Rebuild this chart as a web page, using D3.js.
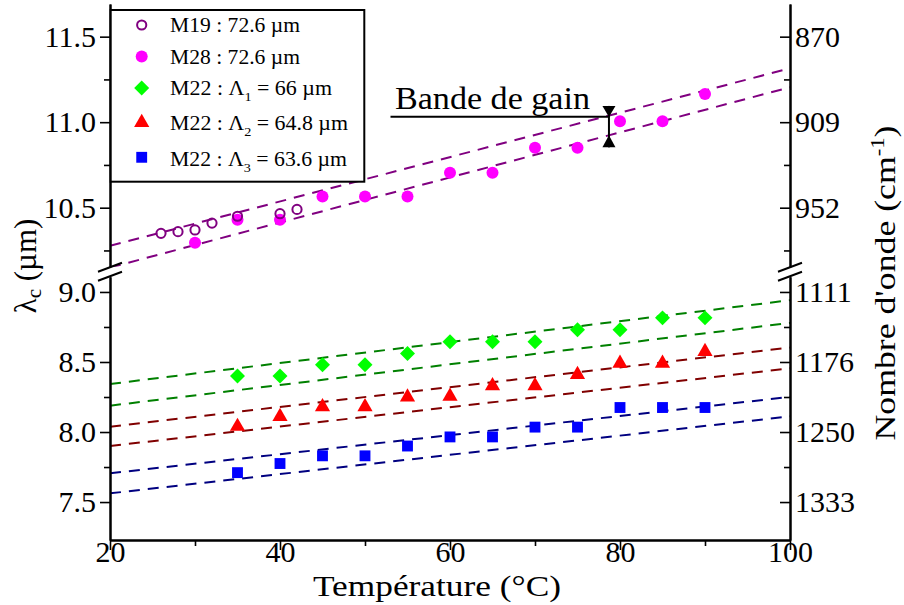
<!DOCTYPE html>
<html><head><meta charset="utf-8">
<script src="https://cdn.jsdelivr.net/npm/d3@7"></script>
<style>
body{margin:0;background:#fff}
svg{display:block}
text{fill:#000;font-family:'Liberation Serif','DejaVu Serif',serif}
</style>
</head><body>
<svg id="chart" width="904" height="605"></svg>
<script>
// ---------------- data ----------------
const tempM19 = [26, 28, 30, 32, 35, 40, 42];
const lambdaM19 = [10.35, 10.36, 10.37, 10.41, 10.45, 10.465, 10.49];

const tempM28 = [30, 35, 40, 45, 50, 55, 60, 65, 70, 75, 80, 85, 90];
const lambdaM28 = [10.295, 10.43, 10.43, 10.565, 10.565, 10.565, 10.705, 10.705, 10.85, 10.85, 11.005, 11.005, 11.165];

const tempM22 = [35, 40, 45, 50, 55, 60, 65, 70, 75, 80, 85, 90];
const lambdaL1 = [8.40, 8.40, 8.48, 8.48, 8.56, 8.645, 8.645, 8.645, 8.73, 8.73, 8.815, 8.815];
const lambdaL2 = [8.04, 8.11, 8.18, 8.18, 8.25, 8.255, 8.33, 8.33, 8.41, 8.49, 8.49, 8.575];
const lambdaL3 = [7.71, 7.775, 7.83, 7.83, 7.90, 7.965, 7.965, 8.035, 8.035, 8.175, 8.175, 8.175];

// fitted dashed lines (values at T = 20 and T = 100)
const fitTemps = [20, 100];
const fitPurpleUp = [10.277, 11.315];
const fitPurpleLow = [10.150, 11.204];
const fitGreenUp = [8.343, 8.941];
const fitGreenLow = [8.188, 8.779];
const fitRedUp = [8.038, 8.603];
const fitRedLow = [7.900, 8.455];
const fitBlueUp = [7.705, 8.251];
const fitBlueLow = [7.562, 8.112];

// gain band annotation
const gainTemp = 78.7;
const gainLambdaTop = 11.095;
const gainLambdaBottom = 10.853;
const gainLineLambda = 11.032;
const gainLineStartTemp = 53.0;
const gainLabel = "Bande de gain";

// axes
const xMajorTicks = [20, 40, 60, 80, 100];
const xMinorTicks = [30, 50, 70, 90];
const yUpperMajor = [10.5, 11.0, 11.5];
const yUpperMinor = [10.25, 10.75, 11.25];
const yLowerMajor = [7.5, 8.0, 8.5, 9.0];
const yLowerMinor = [7.75, 8.25, 8.75];
const rightLabelsUpper = ["952", "909", "870"];
const rightLabelsLower = ["1333", "1250", "1176", "1111"];

// ---------------- layout ----------------
const svg = d3.select("#chart");
const plotLeft = 110, plotRight = 790, plotTop = 4, plotBottom = 540;
const breakTop = 266.7, breakBottom = 276.7;

const x = d3.scaleLinear().domain([20, 100]).range([plotLeft, plotRight]);
const yUp = d3.scaleLinear().domain([10.155, 11.691]).range([breakTop, plotTop]);
const yLow = d3.scaleLinear().domain([7.229, 9.109]).range([plotBottom, breakBottom]);

const defs = svg.append("defs");
defs.append("clipPath").attr("id", "clipUp").append("rect")
  .attr("x", plotLeft).attr("y", plotTop).attr("width", plotRight - plotLeft).attr("height", breakTop - plotTop);
defs.append("clipPath").attr("id", "clipLow").append("rect")
  .attr("x", plotLeft).attr("y", breakBottom).attr("width", plotRight - plotLeft).attr("height", plotBottom - breakBottom);

// ---------------- dashed fit lines ----------------
function fitLine(vals, yScale, color, clip) {
  const pts = fitTemps.map((t, i) => [t, vals[i]]);
  svg.append("path")
    .attr("clip-path", `url(#${clip})`)
    .attr("d", d3.line().x(d => x(d[0])).y(d => yScale(d[1]))(pts))
    .attr("fill", "none").attr("stroke", color).attr("stroke-width", 2)
    .attr("stroke-dasharray", "11,8");
}
fitLine(fitPurpleUp, yUp, "#800080", "clipUp");
fitLine(fitPurpleLow, yUp, "#800080", "clipUp");
fitLine(fitGreenUp, yLow, "#008000", "clipLow");
fitLine(fitGreenLow, yLow, "#008000", "clipLow");
fitLine(fitRedUp, yLow, "#800000", "clipLow");
fitLine(fitRedLow, yLow, "#800000", "clipLow");
fitLine(fitBlueUp, yLow, "#000080", "clipLow");
fitLine(fitBlueLow, yLow, "#000080", "clipLow");

// ---------------- markers ----------------
const symFilledCircle = d3.symbol(d3.symbolCircle, Math.PI * 36)();
const symOpenCircle = d3.symbol(d3.symbolCircle, Math.PI * 4.6 * 4.6)();
const symDiamond = d3.symbol(d3.symbolSquare, 112)();
const symTriangle = d3.symbol(d3.symbolTriangle, 100)();
const symSquare = d3.symbol(d3.symbolSquare, 118)();

function markers(temps, vals, yScale, path, fill, stroke, rotate) {
  svg.append("g").selectAll("path").data(temps.map((t, i) => [t, vals[i]])).join("path")
    .attr("d", path)
    .attr("transform", d => `translate(${x(d[0])},${yScale(d[1])})` + (rotate ? " rotate(45)" : ""))
    .attr("fill", fill).attr("stroke", stroke).attr("stroke-width", stroke === "none" ? 0 : 2);
}
markers(tempM28, lambdaM28, yUp, symFilledCircle, "#ff00ff", "none");
markers(tempM19, lambdaM19, yUp, symOpenCircle, "none", "#800080");
markers(tempM22, lambdaL1, yLow, symDiamond, "#00ff00", "none", true);
markers(tempM22, lambdaL2, yLow, symTriangle, "#ff0000", "none");
markers(tempM22, lambdaL3, yLow, symSquare, "#0000ff", "none");

// ---------------- gain band annotation ----------------
const gx = x(gainTemp), gTop = yUp(gainLambdaTop), gBot = yUp(gainLambdaBottom), gLine = yUp(gainLineLambda);
svg.append("line").attr("x1", x(gainLineStartTemp)).attr("x2", gx).attr("y1", gLine).attr("y2", gLine)
  .attr("stroke", "#000").attr("stroke-width", 2);
svg.append("line").attr("x1", gx).attr("x2", gx).attr("y1", gTop).attr("y2", gBot)
  .attr("stroke", "#000").attr("stroke-width", 2);
svg.append("path").attr("d", `M${gx - 6.5},${gTop}L${gx + 6.5},${gTop}L${gx},${gTop + 11}Z`).attr("fill", "#000");
svg.append("path").attr("d", `M${gx - 6.5},${gBot}L${gx + 6.5},${gBot}L${gx},${gBot - 12}Z`).attr("fill", "#000");
svg.append("text").attr("x", 395).attr("y", gLine - 7.5).attr("font-size", 31)
  .attr("textLength", 195).attr("lengthAdjust", "spacingAndGlyphs").text(gainLabel);

// ---------------- axes ----------------
function styleAxis(g, fs) {
  g.attr("font-family", null).attr("font-size", fs);
  g.select(".domain").attr("stroke-width", 2);
  g.selectAll(".tick line").attr("stroke-width", 1.6);
}
const fmt = d3.format(".1f");
const TF = 30;
let g;
g = svg.append("g").attr("transform", `translate(${plotLeft},0)`)
  .call(d3.axisLeft(yUp).tickValues(yUpperMajor).tickSize(10).tickSizeOuter(0).tickPadding(4).tickFormat(fmt));
styleAxis(g, TF);
g = svg.append("g").attr("transform", `translate(${plotLeft},0)`)
  .call(d3.axisLeft(yUp).tickValues(yUpperMinor).tickSize(6).tickSizeOuter(0).tickFormat(""));
styleAxis(g, TF);
g = svg.append("g").attr("transform", `translate(${plotLeft},0)`)
  .call(d3.axisLeft(yLow).tickValues(yLowerMajor).tickSize(10).tickSizeOuter(0).tickPadding(4).tickFormat(fmt));
styleAxis(g, TF);
g = svg.append("g").attr("transform", `translate(${plotLeft},0)`)
  .call(d3.axisLeft(yLow).tickValues(yLowerMinor).tickSize(6).tickSizeOuter(0).tickFormat(""));
styleAxis(g, TF);
g = svg.append("g").attr("transform", `translate(${plotRight},0)`)
  .call(d3.axisRight(yUp).tickValues(yUpperMajor).tickSizeInner(-10).tickSizeOuter(0).tickPadding(5)
    .tickFormat((d, i) => rightLabelsUpper[i]));
styleAxis(g, TF);
g = svg.append("g").attr("transform", `translate(${plotRight},0)`)
  .call(d3.axisRight(yUp).tickValues(yUpperMinor).tickSizeInner(-6).tickSizeOuter(0).tickFormat(""));
styleAxis(g, TF);
g = svg.append("g").attr("transform", `translate(${plotRight},0)`)
  .call(d3.axisRight(yLow).tickValues(yLowerMajor).tickSizeInner(-10).tickSizeOuter(0).tickPadding(5)
    .tickFormat((d, i) => rightLabelsLower[i]));
styleAxis(g, TF);
g = svg.append("g").attr("transform", `translate(${plotRight},0)`)
  .call(d3.axisRight(yLow).tickValues(yLowerMinor).tickSizeInner(-6).tickSizeOuter(0).tickFormat(""));
styleAxis(g, TF);
g = svg.append("g").attr("transform", `translate(0,${plotBottom})`)
  .call(d3.axisBottom(x).tickValues(xMajorTicks).tickSize(10).tickSizeOuter(0).tickFormat(d3.format("d")));
styleAxis(g, TF);
g.selectAll(".tick text").attr("y", 22).attr("dy", null);
g = svg.append("g").attr("transform", `translate(0,${plotBottom})`)
  .call(d3.axisBottom(x).tickValues(xMinorTicks).tickSize(6).tickSizeOuter(0).tickFormat(""));
styleAxis(g, TF);

// axis break marks
[plotLeft, plotRight].forEach(ax => {
  const ymid = (breakTop + breakBottom) / 2;
  [-4.5, 4.5].forEach(off => {
    svg.append("line")
      .attr("x1", ax - 12).attr("y1", ymid + off + 4.5)
      .attr("x2", ax + 12).attr("y2", ymid + off - 4.5)
      .attr("stroke", "#000").attr("stroke-width", 2);
  });
});

// ---------------- axis titles ----------------
svg.append("text").attr("x", 313).attr("y", 596).attr("font-size", 29)
  .attr("textLength", 248).attr("lengthAdjust", "spacingAndGlyphs").text("Température (°C)");

const lt = svg.append("text").attr("transform", "translate(36,266) rotate(-90)")
  .attr("text-anchor", "middle").attr("font-size", 31);
lt.append("tspan").text("λ");
lt.append("tspan").attr("font-size", 21).attr("dy", 5).text("c");
lt.append("tspan").attr("dy", -5).text(" (µm)");

const rt = svg.append("text").attr("transform", "translate(895,283) rotate(-90)")
  .attr("text-anchor", "middle").attr("font-size", 30)
  .attr("textLength", 315).attr("lengthAdjust", "spacingAndGlyphs");
rt.append("tspan").text("Nombre d'onde (cm");
rt.append("tspan").attr("font-size", 19).attr("dy", -11).text("-1");
rt.append("tspan").attr("dy", 11).text(")");

// ---------------- legend ----------------
const leg = svg.append("g");
leg.append("rect").attr("x", 110.7).attr("y", 10).attr("width", 253.6).attr("height", 171.7)
  .attr("fill", "#fff").attr("stroke", "#000").attr("stroke-width", 2);
const legendItems = [
  {path: symOpenCircle, fill: "none", stroke: "#800080", rot: false, cy: 25, base: 32.3, w: 130,
   parts: [["M19 : 72.6 µm"]]},
  {path: symFilledCircle, fill: "#ff00ff", stroke: "none", rot: false, cy: 56.5, base: 64, w: 130,
   parts: [["M28 : 72.6 µm"]]},
  {path: symDiamond, fill: "#00ff00", stroke: "none", rot: true, cy: 88, base: 95, w: 162,
   parts: [["M22 : Λ"], ["1", "sub"], [" = 66 µm"]]},
  {path: symTriangle, fill: "#ff0000", stroke: "none", rot: false, cy: 122.5, base: 130, w: 178,
   parts: [["M22 : Λ"], ["2", "sub"], [" = 64.8 µm"]]},
  {path: symSquare, fill: "#0000ff", stroke: "none", rot: false, cy: 157.3, base: 165.7, w: 177,
   parts: [["M22 : Λ"], ["3", "sub"], [" = 63.6 µm"]]}
];
legendItems.forEach(it => {
  leg.append("path").attr("d", it.path)
    .attr("transform", `translate(141.7,${it.cy})` + (it.rot ? " rotate(45)" : ""))
    .attr("fill", it.fill).attr("stroke", it.stroke).attr("stroke-width", it.stroke === "none" ? 0 : 2);
  const t = leg.append("text").attr("x", 170).attr("y", it.base).attr("font-size", 20)
    .attr("textLength", it.w).attr("lengthAdjust", "spacingAndGlyphs");
  let shifted = false;
  it.parts.forEach(p => {
    const ts = t.append("tspan").text(p[0]);
    if (p[1] === "sub") { ts.attr("font-size", 13).attr("dy", 6); shifted = true; }
    else if (shifted) { ts.attr("dy", -6); shifted = false; }
  });
});
</script>
</body></html>
